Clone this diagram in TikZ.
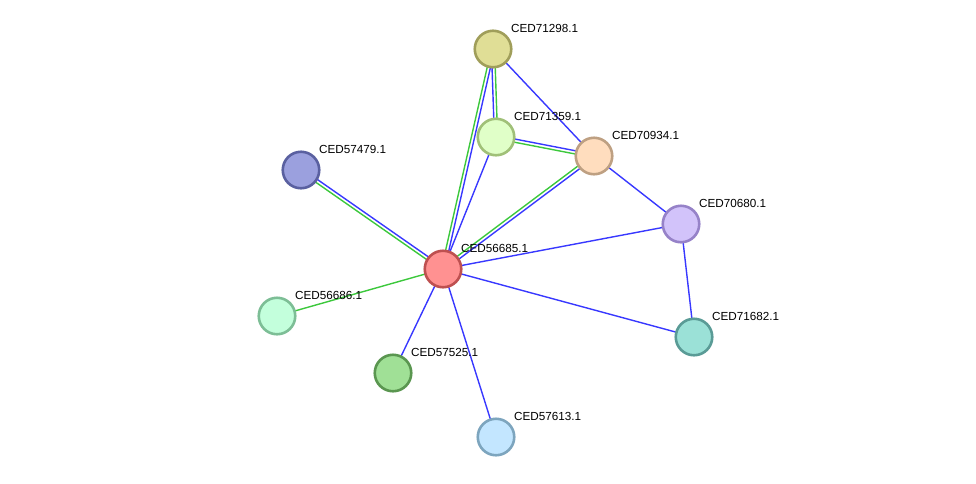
\documentclass[tikz,border=0pt]{standalone}
\usepackage{fontspec}
\setmainfont{Liberation Sans}
\usetikzlibrary{calc,backgrounds}
\definecolor{eblue}{RGB}{56,56,255}
\definecolor{egreen}{RGB}{60,200,60}
\tikzset{
  prot/.style={circle, minimum size=36.5pt, inner sep=0pt, line width=2.6pt},
  lbl/.style={anchor=base west, inner sep=0pt, font=\fontsize{11.7}{13}\selectfont},
  bedge/.style={draw=eblue, line width=1.4pt},
  gedge/.style={draw=egreen, line width=1.4pt},
}
\newcommand\dedge[2]{%
  \draw[bedge] ($(#1.center)!1.6pt!90:(#2.center)$) -- ($(#2.center)!1.6pt!-90:(#1.center)$);
  \draw[gedge] ($(#1.center)!1.6pt!-90:(#2.center)$) -- ($(#2.center)!1.6pt!90:(#1.center)$);
}
\begin{document}
\begin{tikzpicture}[x=1pt,y=-1pt]
\useasboundingbox (0,0) rectangle (976,483);
% nodes
\node[prot, fill={rgb,255:red,224;green,222;blue,150}, draw={rgb,255:red,160;green,158;blue,90}] (n71298) at (493,49) {};
\node[prot, fill={rgb,255:red,224;green,255;blue,200}, draw={rgb,255:red,160;green,192;blue,120}] (n71359) at (496,137) {};
\node[prot, fill={rgb,255:red,255;green,221;blue,190}, draw={rgb,255:red,190;green,160;blue,130}] (n70934) at (594,156) {};
\node[prot, fill={rgb,255:red,155;green,160;blue,222}, draw={rgb,255:red,90;green,96;blue,160}] (n57479) at (301,170) {};
\node[prot, fill={rgb,255:red,255;green,145;blue,145}, draw={rgb,255:red,190;green,80;blue,80}] (n56685) at (443,269) {};
\node[prot, fill={rgb,255:red,210;green,195;blue,250}, draw={rgb,255:red,150;green,130;blue,200}] (n70680) at (681,224) {};
\node[prot, fill={rgb,255:red,195;green,255;blue,220}, draw={rgb,255:red,125;green,190;blue,150}] (n56686) at (277,316) {};
\node[prot, fill={rgb,255:red,155;green,225;blue,215}, draw={rgb,255:red,90;green,155;blue,150}] (n71682) at (694,337) {};
\node[prot, fill={rgb,255:red,160;green,224;blue,150}, draw={rgb,255:red,90;green,150;blue,80}] (n57525) at (393,373) {};
\node[prot, fill={rgb,255:red,195;green,230;blue,255}, draw={rgb,255:red,125;green,165;blue,190}] (n57613) at (496,437) {};
% labels
\node[lbl] (l71298) at ($(n71298.center)+(18,-17)$) {CED71298.1};
\node[lbl] (l71359) at ($(n71359.center)+(18,-17)$) {CED71359.1};
\node[lbl] (l70934) at ($(n70934.center)+(18,-17)$) {CED70934.1};
\node[lbl] (l57479) at ($(n57479.center)+(18,-17)$) {CED57479.1};
\node[lbl] (l56685) at ($(n56685.center)+(18,-17)$) {CED56685.1};
\node[lbl] (l70680) at ($(n70680.center)+(18,-17)$) {CED70680.1};
\node[lbl] (l56686) at ($(n56686.center)+(18,-17)$) {CED56686.1};
\node[lbl] (l71682) at ($(n71682.center)+(18,-17)$) {CED71682.1};
\node[lbl] (l57525) at ($(n57525.center)+(18,-17)$) {CED57525.1};
\node[lbl] (l57613) at ($(n57613.center)+(18,-17)$) {CED57613.1};
% edges
\begin{scope}[on background layer]
\dedge{n71298}{n56685}
\dedge{n71359}{n71298}
\dedge{n57479}{n56685}
\dedge{n71359}{n70934}
\dedge{n70934}{n56685}
\draw[bedge] (n71298.center) -- (n70934.center);
\draw[bedge] (n71359.center) -- (n56685.center);
\draw[bedge] (n70934.center) -- (n70680.center);
\draw[gedge] (n56686.center) -- (n56685.center);
\draw[bedge] (n56685.center) -- (n70680.center);
\draw[bedge] (n56685.center) -- (n71682.center);
\draw[bedge] (n56685.center) -- (n57525.center);
\draw[bedge] (n56685.center) -- (n57613.center);
\draw[bedge] (n70680.center) -- (n71682.center);
\end{scope}
\end{tikzpicture}
\end{document}
